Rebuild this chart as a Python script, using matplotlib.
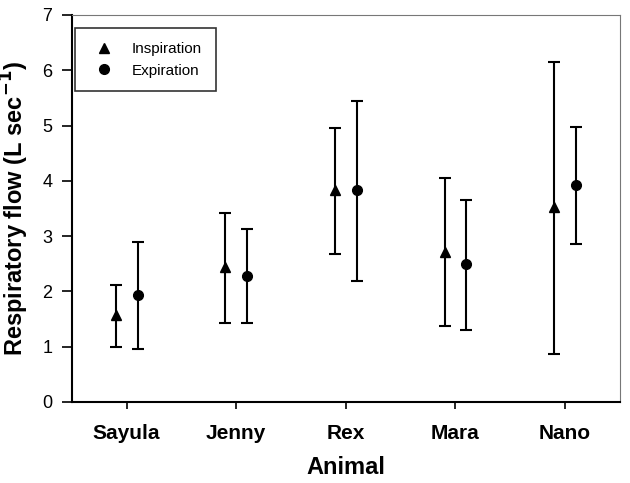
import matplotlib.pyplot as plt
import numpy as np

plt.rcParams['font.family'] = ['Liberation Sans', 'DejaVu Sans']

animals = ['Sayula', 'Jenny', 'Rex', 'Mara', 'Nano']

insp_mean = [1.57, 2.44, 3.83, 2.71, 3.53]
insp_low = [0.99, 1.43, 2.68, 1.37, 0.87]
insp_high = [2.12, 3.42, 4.95, 4.05, 6.15]

exp_mean = [1.93, 2.28, 3.83, 2.50, 3.92]
exp_low = [0.96, 1.43, 2.19, 1.30, 2.86]
exp_high = [2.89, 3.13, 5.44, 3.65, 4.97]

x = np.arange(1, len(animals) + 1)
insp_err = [np.array(insp_mean) - np.array(insp_low), np.array(insp_high) - np.array(insp_mean)]
exp_err = [np.array(exp_mean) - np.array(exp_low), np.array(exp_high) - np.array(exp_mean)]

fig = plt.figure(figsize=(6.3, 4.83), dpi=100)
ax = fig.add_axes([0.114, 0.168, 0.870, 0.801])

ax.errorbar(x - 0.1, insp_mean, yerr=insp_err, fmt='^', color='black',
            markersize=7, capsize=4.5, elinewidth=1.5, capthick=1.5, label='Inspiration')
ax.errorbar(x + 0.1, exp_mean, yerr=exp_err, fmt='o', color='black',
            markersize=7, capsize=4.5, elinewidth=1.5, capthick=1.5, label='Expiration')

ax.set_xlim(0.5, 5.5)
ax.set_ylim(0, 7)
ax.set_xticks(x)
ax.set_xticklabels(animals, fontsize=15, fontweight='bold')
ax.set_yticks(range(8))
ax.tick_params(axis='y', labelsize=13, direction='out', length=7, width=1.2, pad=7)
ax.tick_params(axis='x', direction='out', length=5, width=1.2, pad=11)

for s in ['left', 'bottom']:
    ax.spines[s].set_linewidth(1.5)
for s in ['top', 'right']:
    ax.spines[s].set_linewidth(0.8)
    ax.spines[s].set_color('#777777')

ax.set_xlabel('Animal', fontsize=17, fontweight='bold', labelpad=9)
ax.set_ylabel('Respiratory flow (L sec$^{\\mathbf{-1}}$)', fontsize=17, fontweight='bold', labelpad=8)

handles, labels = ax.get_legend_handles_labels()
handles = [h[0] for h in handles]
leg = ax.legend(handles, labels, loc='upper left', fontsize=11, frameon=True, fancybox=False,
                edgecolor='black', borderpad=0.9, handletextpad=0.8, labelspacing=0.5,
                borderaxespad=0, bbox_to_anchor=(0.006, 0.966))
leg.get_frame().set_linewidth(1.2)

plt.savefig('out.png', dpi=100)
